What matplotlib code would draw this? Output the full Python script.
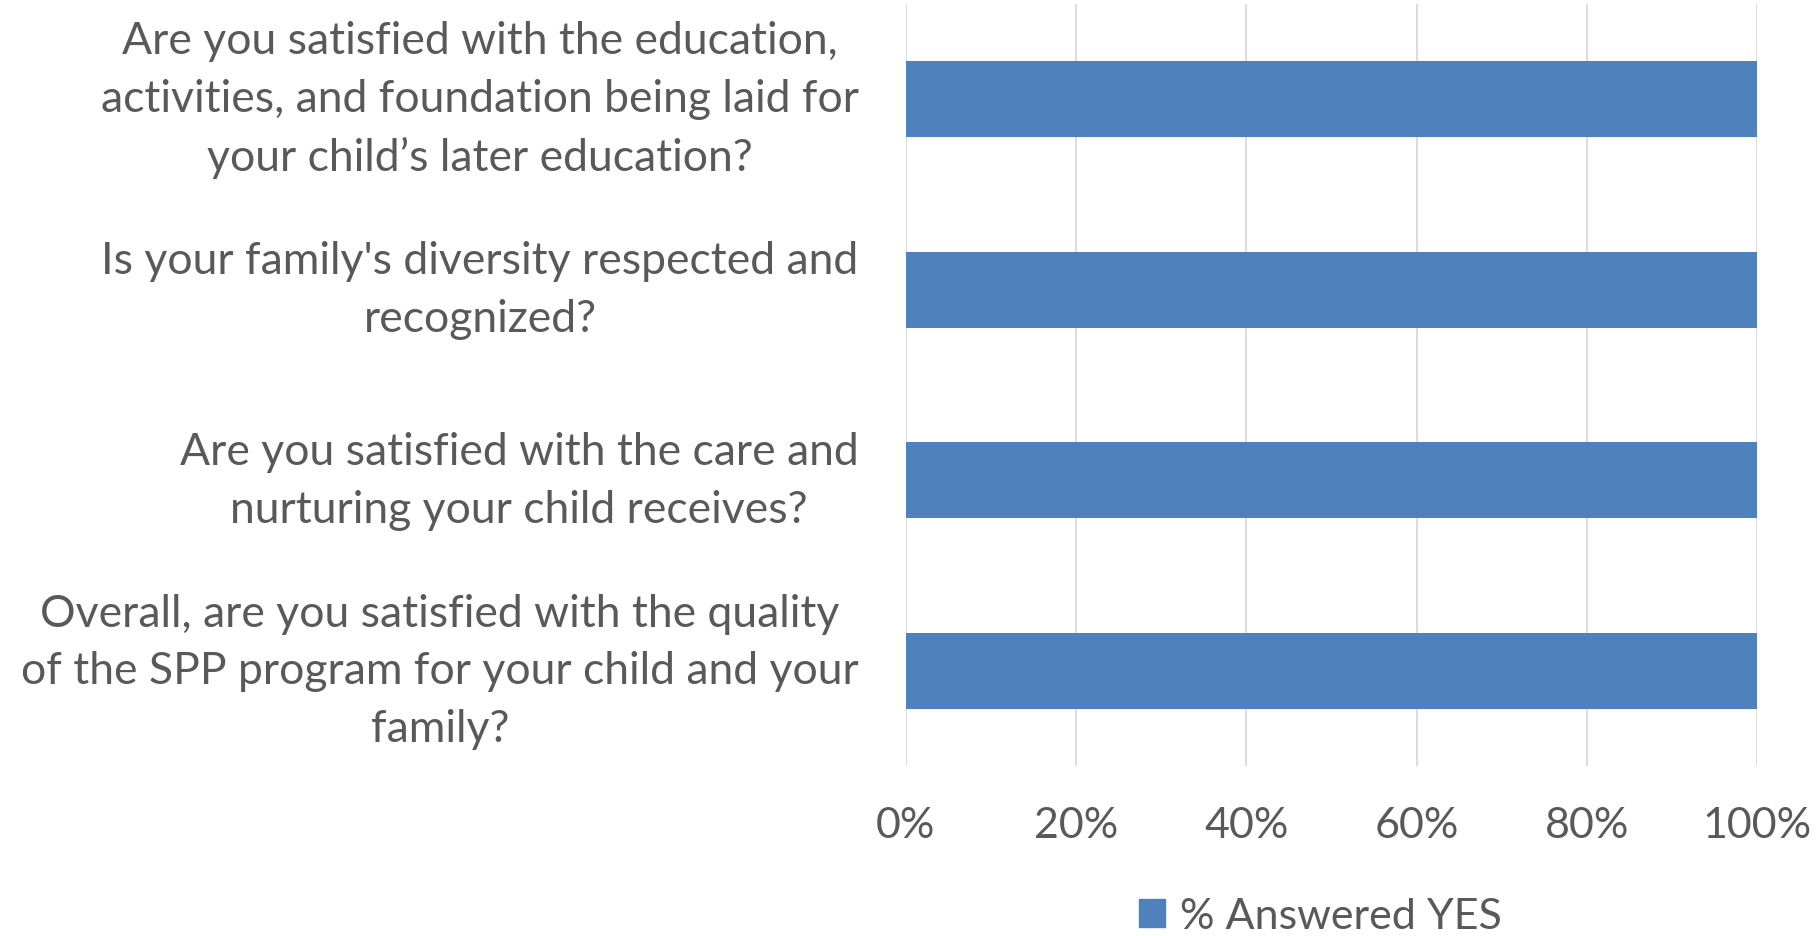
import numpy as np
import matplotlib.pyplot as plt
from matplotlib.patches import Patch
from matplotlib.ticker import PercentFormatter

# survey questions, top to bottom as in the chart
questions = [
    "Are you satisfied with the education,\nactivities, and foundation being laid for\nyour child\u2019s later education?",
    "Is your family's diversity respected and\nrecognized?",
    "Are you satisfied with the care and\nnurturing your child receives?",
    "Overall, are you satisfied with the quality\nof the SPP program for your child and your\nfamily?",
]
pct_yes = [100, 100, 100, 100]
x_ticks = [0, 20, 40, 60, 80, 100]
series_name = "% Answered YES"

BAR = "#4F81BD"
TXT = "#595959"
GRID = "#D9D9D9"

plt.rcParams['font.family'] = ['Lato', 'DejaVu Sans']

fig = plt.figure(figsize=(18.19, 9.37), dpi=100)
ax = fig.add_axes([0.498, 0.1814, 0.468, 0.8133])

y = np.arange(len(questions))
ax.barh(y, pct_yes, height=0.4, color=BAR, zorder=3)

ax.set_ylim(len(questions) - 0.5, -0.5)
ax.set_xlim(0, 100)
ax.set_xticks(x_ticks)
ax.xaxis.set_major_formatter(PercentFormatter(decimals=0))
ax.set_yticks(y)
ax.set_yticklabels(questions, ma='center', va='center')

ax.tick_params(axis='x', length=0, pad=29, labelsize=31, labelcolor=TXT)
ax.tick_params(axis='y', length=0, pad=34, labelsize=32, labelcolor=TXT)
ax.grid(axis='x', color=GRID, linewidth=1.3, zorder=0)
for s in ax.spines.values():
    s.set_visible(False)

for lbl in ax.get_yticklabels():
    lbl.set_linespacing(1.5)

fig.legend(handles=[Patch(color=BAR, label=series_name)], loc='center',
           bbox_to_anchor=(0.726, 0.021), frameon=False, fontsize=31,
           labelcolor=TXT, handlelength=0.6, handleheight=0.6, handletextpad=0.35)

fig.savefig("out.png", dpi=100, facecolor='white')
